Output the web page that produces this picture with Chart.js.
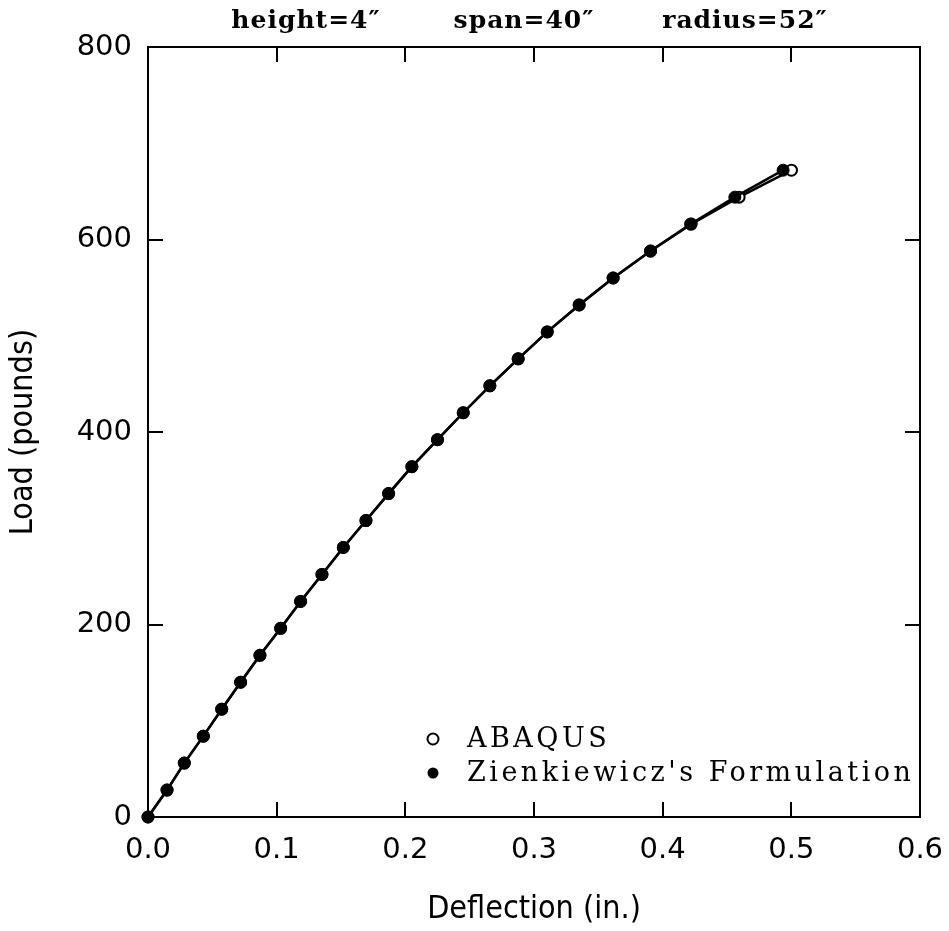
<!DOCTYPE html>
<html>
<head>
<meta charset="utf-8">
<script src="https://cdn.jsdelivr.net/npm/chart.js@4"></script>
<style>
  html, body { margin: 0; padding: 0; background: #fff; }
  #wrap { width: 949px; height: 931px; position: relative; }
</style>
</head>
<body>
<div id="wrap"><canvas id="chartLoad"></canvas></div>
<script>
// load steps (pounds), shared by both series
const loads = [0, 28, 56, 84, 112, 140, 168, 196, 224, 252, 280, 308, 336, 364, 392, 420, 448, 476, 504, 532, 560, 588, 616, 644, 672];
// deflection (in.)
const deflZienk = [0, 0.0148, 0.0282, 0.0430, 0.0573, 0.0720, 0.0870, 0.1031, 0.1186, 0.1352, 0.1518, 0.1694, 0.1870, 0.2051, 0.2250, 0.2450, 0.2657, 0.2877, 0.3103, 0.3351, 0.3615, 0.3906, 0.4217, 0.4561, 0.4936];
const deflAbaqus = [0, 0.0148, 0.0282, 0.0430, 0.0573, 0.0720, 0.0870, 0.1031, 0.1186, 0.1352, 0.1518, 0.1694, 0.1870, 0.2051, 0.2250, 0.2450, 0.2657, 0.2877, 0.3103, 0.3351, 0.3615, 0.3906, 0.4222, 0.4594, 0.5001];
const xTicks = { min: 0, max: 0.6, step: 0.1 };
const yTicks = { min: 0, max: 800, step: 200 };
const topNotes = ['height=4″', 'span=40″', 'radius=52″'];
const legendItems = ['ABAQUS', "Zienkiewicz's Formulation"];

const pts = xs => xs.map((x, i) => ({ x, y: loads[i] }));

// frame + inward tick marks on all four sides
const frame = {
  id: 'frame',
  beforeDatasetsDraw(chart) {
    const { ctx, chartArea: a, scales: { x, y } } = chart;
    const len = 15;
    ctx.save();
    ctx.strokeStyle = '#000';
    ctx.lineWidth = 2;
    ctx.strokeRect(a.left, a.top, a.right - a.left, a.bottom - a.top);
    ctx.beginPath();
    x.ticks.forEach(t => {
      const px = Math.round(x.getPixelForValue(t.value));
      ctx.moveTo(px, a.bottom); ctx.lineTo(px, a.bottom - len);
      ctx.moveTo(px, a.top); ctx.lineTo(px, a.top + len);
    });
    y.ticks.forEach(t => {
      const py = Math.round(y.getPixelForValue(t.value));
      ctx.moveTo(a.left, py); ctx.lineTo(a.left + len, py);
      ctx.moveTo(a.right, py); ctx.lineTo(a.right - len, py);
    });
    ctx.stroke();
    ctx.restore();
  }
};

// header notes and the in-plot legend
const notes = {
  id: 'notes',
  afterDraw(chart) {
    const { ctx, chartArea: a } = chart;
    ctx.save();
    ctx.fillStyle = '#000';
    ctx.textBaseline = 'alphabetic';
    ctx.textAlign = 'center';
    ctx.font = 'bold 25px "DejaVu Serif"';
    ctx.letterSpacing = '1px';
    const cx = [306, 524, 745];
    topNotes.forEach((s, i) => ctx.fillText(s, cx[i], 28));

    ctx.textAlign = 'left';
    ctx.textBaseline = 'middle';
    ctx.font = '27px "DejaVu Serif"';
    ctx.letterSpacing = '3.5px';
    const lx = a.right - 487, ly = a.bottom - 78, gap = 34;
    legendItems.forEach((s, i) => {
      const yy = ly + i * gap;
      ctx.beginPath();
      ctx.arc(lx, yy, 5.5, 0, Math.PI * 2);
      if (i === 0) { ctx.lineWidth = 2; ctx.strokeStyle = '#000'; ctx.stroke(); }
      else { ctx.fill(); }
      ctx.fillText(s, lx + 34, yy + 1);
    });
    ctx.restore();
  }
};

new Chart(document.getElementById('chartLoad'), {
  type: 'scatter',
  data: {
    datasets: [
      { label: legendItems[1], data: pts(deflZienk), showLine: true, borderColor: '#000', borderWidth: 2.5,
        pointRadius: 6, pointBackgroundColor: '#000', pointBorderColor: '#000', pointBorderWidth: 1, clip: false },
      { label: legendItems[0], data: pts(deflAbaqus), showLine: true, borderColor: '#000', borderWidth: 2.5,
        pointRadius: 5.5, pointBackgroundColor: '#fff', pointBorderColor: '#000', pointBorderWidth: 2, clip: false }
    ]
  },
  options: {
    responsive: true, maintainAspectRatio: false, animation: false, devicePixelRatio: 1,
    layout: { padding: { left: 8, top: 47, right: 29, bottom: 5 } },
    plugins: { legend: { display: false }, tooltip: { enabled: false } },
    scales: {
      x: {
        type: 'linear', min: xTicks.min, max: xTicks.max,
        grid: { display: false, drawTicks: false }, border: { display: false },
        ticks: { stepSize: xTicks.step, padding: 16, color: '#000', font: { family: '"DejaVu Sans"', size: 29 },
          callback: v => Number(v).toFixed(1) },
        title: { display: true, text: 'Deflection (in.)', color: '#000', padding: 0,
          font: { family: '"DejaVu Sans Condensed", "DejaVu Sans"', size: 32, lineHeight: 1 } },
        afterFit: s => { s.height = 109; s.paddingLeft = 0; s.paddingRight = 0; }
      },
      y: {
        type: 'linear', min: yTicks.min, max: yTicks.max,
        grid: { display: false, drawTicks: false }, border: { display: false },
        ticks: { stepSize: yTicks.step, padding: 16, color: '#000', font: { family: '"DejaVu Sans"', size: 29 } },
        title: { display: true, text: 'Load (pounds)', color: '#000', padding: 0,
          font: { family: '"DejaVu Sans Condensed", "DejaVu Sans"', size: 32, lineHeight: 1 } },
        afterFit: s => { s.width = 140; s.paddingTop = 0; s.paddingBottom = 0; }
      }
    }
  },
  plugins: [frame, notes]
});
</script>
</body>
</html>
